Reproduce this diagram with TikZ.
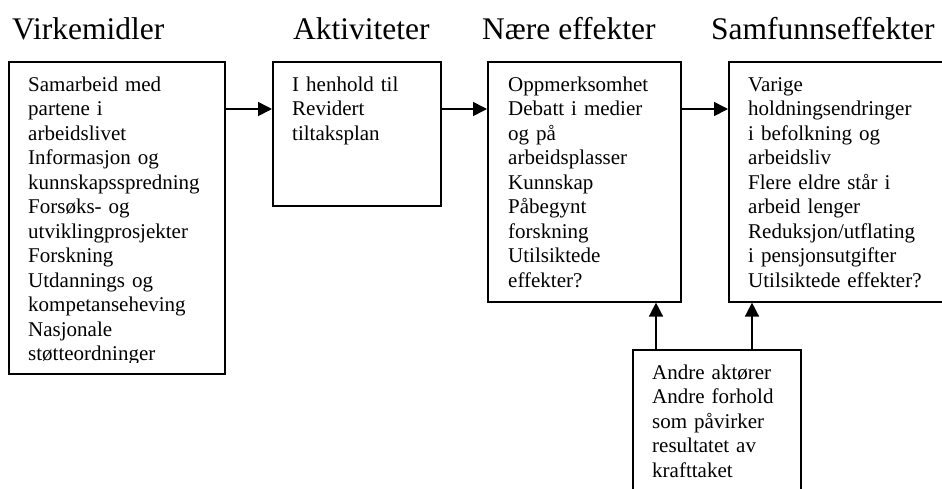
\documentclass[tikz,border=0pt]{standalone}
\usepackage{fontspec}
\setmainfont{Liberation Serif}
\usetikzlibrary{arrows.meta}
\tikzset{
  box/.style={draw, line width=1.6pt, rectangle, inner sep=0pt, anchor=north west},
  body/.style={anchor=north west, inner sep=0pt, text width=300pt, align=left,
    font=\fontsize{21}{24.5}\selectfont},
  title/.style={anchor=base west, inner sep=0pt, font=\fontsize{31.5}{36}\selectfont},
  arr/.style={line width=1.6pt, -{Triangle[length=14pt,width=14pt]}}
}
\newcommand{\firstline}{\rule{0pt}{30pt}}
\begin{document}
\begin{tikzpicture}[x=1pt,y=-1pt]
\clip (0,0) rectangle (942,488);
\fill[white] (0,0) rectangle (942,488);
% titles
\node[title] (t1) at (12,39) {Virkemidler};
\node[title] (t2) at (293,39) {Aktiviteter};
\node[title] (t3) at (482,39) {Nære effekter};
\node[title] (t4) at (711,39) {Samfunnseffekter};
% boxes
\node[box, minimum width=216pt, minimum height=312pt] (b1) at (8,61) {};
\node[box, minimum width=168pt, minimum height=144pt] (b2) at (272,61) {};
\node[box, minimum width=193pt, minimum height=240pt] (b3) at (487,61) {};
\node[box, minimum width=234pt, minimum height=240pt] (b4) at (728,61) {};
\node[box, minimum width=168pt, minimum height=161pt] (b5) at (632,349) {};
% texts
\begin{scope}
\clip (8,61) rectangle (224,362);
\node[body] (x1) at (28,61) {\firstline Samarbeid med\\partene i\\arbeidslivet\\Informasjon og\\kunnskapsspredning\\Forsøks- og\\utviklingprosjekter\\Forskning\\Utdannings og\\kompetanseheving\\Nasjonale\\støtteordninger};
\end{scope}
\node[body] (x2) at (292,61) {\firstline I henhold til\\Revidert\\tiltaksplan};
\node[body] (x3) at (508,61) {\firstline Oppmerksomhet\\Debatt i medier\\og på\\arbeidsplasser\\Kunnskap\\Påbegynt\\forskning\\Utilsiktede\\effekter?};
\node[body] (x4) at (748,61) {\firstline Varige\\holdningsendringer\\i befolkning og\\arbeidsliv\\Flere eldre står i\\arbeid lenger\\Reduksjon/utflating\\i pensjonsutgifter\\Utilsiktede effekter?};
\node[body] (x5) at (652,349) {\firstline Andre aktører\\Andre forhold\\som påvirker\\resultatet av\\krafttaket};
% connectors
\draw[arr] ([yshift=-48pt]b1.north east) -- ([yshift=-48pt]b2.north west);
\draw[arr] ([yshift=-48pt]b2.north east) -- ([yshift=-48pt]b3.north west);
\draw[arr] ([yshift=-48pt]b3.north east) -- ([yshift=-48pt]b4.north west);
\coordinate (u1) at ([xshift=24pt]b5.north west);
\coordinate (u2) at ([xshift=120pt]b5.north west);
\draw[arr] (u1) -- (u1 |- b3.south);
\draw[arr] (u2) -- (u2 |- b4.south);
\end{tikzpicture}
\end{document}
